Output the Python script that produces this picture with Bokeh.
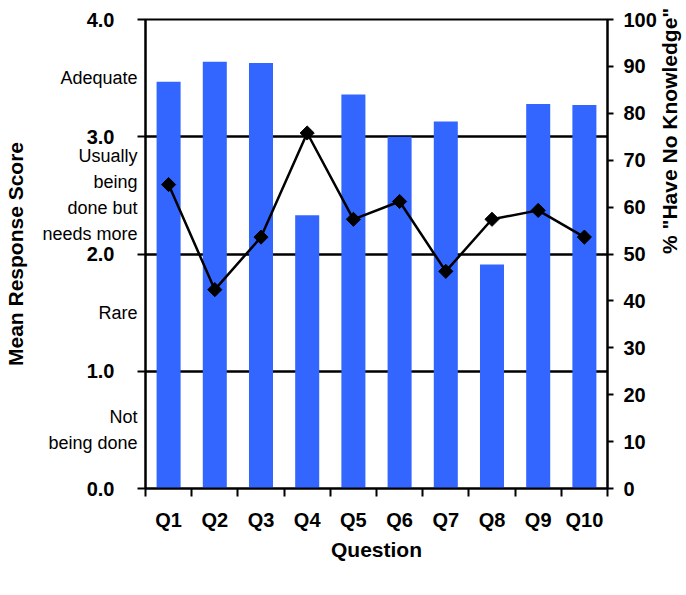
import math
from bokeh.plotting import figure
from bokeh.models import (Range1d, LinearAxis, FixedTicker, NumeralTickFormatter,
                          Legend, LegendItem)
from bokeh.embed import file_html
from bokeh.resources import INLINE

# ---- data ----
questions = ["Q1", "Q2", "Q3", "Q4", "Q5", "Q6", "Q7", "Q8", "Q9", "Q10"]
mean_scores = [3.47, 3.64, 3.63, 2.33, 3.36, 3.00, 3.13, 1.91, 3.28, 3.27]
pct_no_knowledge = [64.8, 42.4, 53.6, 75.8, 57.4, 61.2, 46.3, 57.4, 59.3, 53.6]
score_ticks = [0, 1, 2, 3, 4]
pct_ticks = [0, 10, 20, 30, 40, 50, 60, 70, 80, 90, 100]
scale_labels = ["Not\nbeing done", "Rare", "Usually\nbeing\ndone but\nneeds more", "Adequate"]
scale_label_positions = [0.5, 1.5, 2.5, 3.5]

FONT = "Liberation Sans"
BLUE = "#3366FF"

n = len(questions)
xc = [i + 0.5 for i in range(n)]
bounds = list(range(n + 1))

p = figure(width=None, height=None, frame_width=462, frame_height=469,
           output_backend="svg", toolbar_location=None,
           x_range=Range1d(0, n), y_range=Range1d(0, 4),
           min_border_left=145, min_border_right=79, min_border_top=19,
           min_border_bottom=0, x_axis_location="below", y_axis_location="left")
p.outline_line_color = "black"
p.outline_line_width = 2
p.background_fill_color = "white"
p.border_fill_color = "white"

# bars
bars = p.vbar(x=xc, top=mean_scores, width=0.52, fill_color=BLUE, line_color=None)

# secondary range
p.extra_y_ranges = {"pct": Range1d(0, 100)}
line = p.line(x=xc, y=pct_no_knowledge, y_range_name="pct", line_color="black", line_width=2.5)
pts = p.scatter(x=xc, y=pct_no_knowledge, y_range_name="pct", marker="square",
                angle=math.pi / 4, size=10, fill_color="black", line_color="black")

# grid
p.xgrid.visible = False
p.ygrid.ticker = FixedTicker(ticks=[1, 2, 3])
p.ygrid.grid_line_color = "black"
p.ygrid.grid_line_width = 2.5
p.ygrid.level = "underlay"

# x axis
xa = p.xaxis[0]
xa.ticker = FixedTicker(ticks=xc, minor_ticks=bounds)
xa.major_label_overrides = {c: q for c, q in zip(xc, questions)}
xa.major_tick_out = 0
xa.major_tick_in = 0
xa.minor_tick_out = 8
xa.minor_tick_in = 0
xa.minor_tick_line_color = "black"
xa.minor_tick_line_width = 2
xa.axis_line_width = 2
xa.major_label_standoff = 12
xa.major_label_text_font = FONT
xa.major_label_text_font_style = "bold"
xa.major_label_text_font_size = "20px"
xa.major_label_text_color = "black"
xa.axis_label = "Question"
xa.axis_label_text_font = FONT
xa.axis_label_text_font_style = "bold"
xa.axis_label_text_font_size = "21px"
xa.axis_label_text_color = "black"
xa.axis_label_standoff = 4

# inner left axis: axis line, ticks at integer scores, verbal scale labels between them
ya = p.yaxis[0]
ya.ticker = FixedTicker(ticks=scale_label_positions, minor_ticks=score_ticks)
ya.major_label_overrides = {v: t for v, t in zip(scale_label_positions, scale_labels)}
ya.major_tick_out = 0
ya.major_tick_in = 0
ya.minor_tick_out = 8
ya.minor_tick_in = 0
ya.minor_tick_line_color = "black"
ya.minor_tick_line_width = 2
ya.axis_line_width = 2
ya.major_label_standoff = 0
ya.major_label_text_font = FONT
ya.major_label_text_font_size = "18px"
ya.major_label_text_line_height = 1.3
ya.major_label_text_color = "black"

# outer left axis: bold numeric labels, pulled back next to the ticks
na = LinearAxis(ticker=FixedTicker(ticks=score_ticks),
                formatter=NumeralTickFormatter(format="0.0"))
na.axis_line_color = None
na.major_tick_line_color = None
na.minor_tick_line_color = None
na.major_tick_out = 0
na.major_tick_in = 0
na.major_label_standoff = -75
na.major_label_text_font = FONT
na.major_label_text_font_style = "bold"
na.major_label_text_font_size = "20px"
na.major_label_text_color = "black"
na.axis_label = "Mean Response Score"
na.axis_label_text_font = FONT
na.axis_label_text_font_style = "bold"
na.axis_label_text_font_size = "21px"
na.axis_label_text_color = "black"
na.axis_label_standoff = 57
p.add_layout(na, "left")

# right axis
ra = LinearAxis(y_range_name="pct", ticker=FixedTicker(ticks=pct_ticks))
ra.major_tick_out = 6
ra.major_tick_in = 0
ra.major_tick_line_width = 2
ra.axis_line_width = 2
ra.major_label_standoff = 10
ra.major_label_text_font = FONT
ra.major_label_text_font_style = "bold"
ra.major_label_text_font_size = "20px"
ra.major_label_text_color = "black"
ra.axis_label = '% "Have No Knowledge"'
ra.axis_label_text_font = FONT
ra.axis_label_text_font_style = "bold"
ra.axis_label_text_font_size = "21px"
ra.axis_label_text_color = "black"
ra.axis_label_standoff = 10
ra.axis_label_orientation = math.pi / 2
p.add_layout(ra, "right")

# legend below, anchored to the top of its panel
legend = Legend(items=[LegendItem(label="Mean Response Score", renderers=[bars]),
                       LegendItem(label='% "Have No Knowledge"', renderers=[line, pts])],
                orientation="horizontal", location="top_center",
                label_text_font=FONT, label_text_font_size="21px",
                glyph_width=52, glyph_height=14, label_standoff=6, spacing=22,
                padding=0, margin=6, border_line_color=None,
                background_fill_alpha=0)
p.add_layout(legend, "below")

open("out.html", "w").write(file_html(p, INLINE))
